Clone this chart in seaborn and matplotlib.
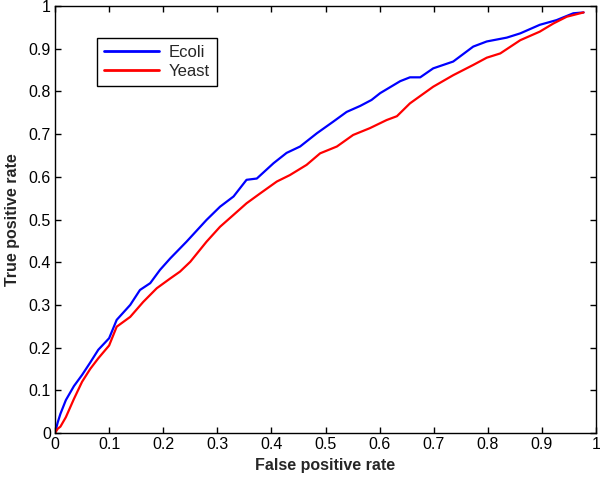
import numpy as np
import pandas as pd
import matplotlib
matplotlib.use("Agg")
import matplotlib.pyplot as plt
import seaborn as sns

# ROC curve points
ECOLI_FPR = [0, 0.005, 0.01, 0.02, 0.035, 0.05, 0.065, 0.08, 0.1, 0.114, 0.139,
             0.157, 0.176, 0.194, 0.213, 0.243, 0.28, 0.305, 0.33, 0.354, 0.373,
             0.404, 0.428, 0.453, 0.484, 0.514, 0.539, 0.564, 0.585, 0.601, 0.638,
             0.656, 0.675, 0.699, 0.736, 0.773, 0.798, 0.835, 0.86, 0.896, 0.927,
             0.958, 0.977]
ECOLI_TPR = [0, 0.025, 0.045, 0.077, 0.11, 0.136, 0.165, 0.195, 0.222, 0.265, 0.3,
             0.335, 0.351, 0.382, 0.409, 0.448, 0.499, 0.53, 0.554, 0.593, 0.596,
             0.632, 0.656, 0.671, 0.702, 0.729, 0.752, 0.766, 0.78, 0.796, 0.824,
             0.833, 0.833, 0.854, 0.87, 0.905, 0.917, 0.926, 0.936, 0.956, 0.967,
             0.983, 0.985]

YEAST_FPR = [0, 0.005, 0.01, 0.02, 0.035, 0.05, 0.065, 0.08, 0.1, 0.114, 0.139,
             0.163, 0.188, 0.213, 0.231, 0.25, 0.28, 0.305, 0.33, 0.354, 0.379,
             0.41, 0.434, 0.465, 0.49, 0.521, 0.551, 0.582, 0.613, 0.632, 0.656,
             0.699, 0.736, 0.773, 0.798, 0.823, 0.86, 0.896, 0.921, 0.946, 0.977]
YEAST_TPR = [0, 0.01, 0.015, 0.037, 0.08, 0.12, 0.15, 0.175, 0.205, 0.249, 0.272,
             0.307, 0.339, 0.362, 0.378, 0.401, 0.448, 0.483, 0.511, 0.538, 0.561,
             0.589, 0.604, 0.628, 0.655, 0.671, 0.698, 0.714, 0.733, 0.742, 0.772,
             0.811, 0.838, 0.862, 0.879, 0.889, 0.92, 0.94, 0.959, 0.975, 0.985]

TICKS = np.round(np.arange(0, 1.01, 0.1), 1)
TICK_LABELS = ["0"] + [f"{t:g}" for t in TICKS[1:-1]] + ["1"]

df = pd.concat([
    pd.DataFrame({"fpr": ECOLI_FPR, "tpr": ECOLI_TPR, "organism": "Ecoli"}),
    pd.DataFrame({"fpr": YEAST_FPR, "tpr": YEAST_TPR, "organism": "Yeast"}),
], ignore_index=True)

sns.set_style("ticks")
plt.rcParams["font.family"] = ["Liberation Sans", "DejaVu Sans"]

fig = plt.figure(figsize=(6, 4.78), dpi=100)
ax = fig.add_axes([0.0917, 0.0941, 0.9017, 0.8933])

sns.lineplot(
    data=df, x="fpr", y="tpr", hue="organism",
    palette={"Ecoli": "#0000ff", "Yeast": "#ff0000"},
    sort=False, estimator=None, linewidth=1.6, ax=ax,
)

ax.set_xlim(0, 1)
ax.set_ylim(0, 1)
ax.set_xticks(TICKS)
ax.set_yticks(TICKS)
ax.set_xticklabels(TICK_LABELS)
ax.set_yticklabels(TICK_LABELS)
ax.tick_params(direction="in", top=True, right=True, length=4, width=1,
               labelsize=11.5, colors="black", pad=3)
for s in ax.spines.values():
    s.set_visible(True)
    s.set_linewidth(1)
    s.set_color("black")

ax.set_xlabel("False positive rate", fontsize=11.5, fontweight="bold", labelpad=4)
ax.set_ylabel("True positive rate", fontsize=11.5, fontweight="bold", labelpad=6)

leg = ax.legend(loc="upper left", bbox_to_anchor=(0.078, 0.925), fontsize=12,
                frameon=True, fancybox=False, edgecolor="black", framealpha=1,
                handlelength=3.3, handletextpad=0.6, borderpad=0.4,
                labelspacing=0.25, borderaxespad=0)
leg.get_frame().set_linewidth(1)
for line in leg.get_lines():
    line.set_linewidth(2)

fig.savefig("out.png", dpi=100)
